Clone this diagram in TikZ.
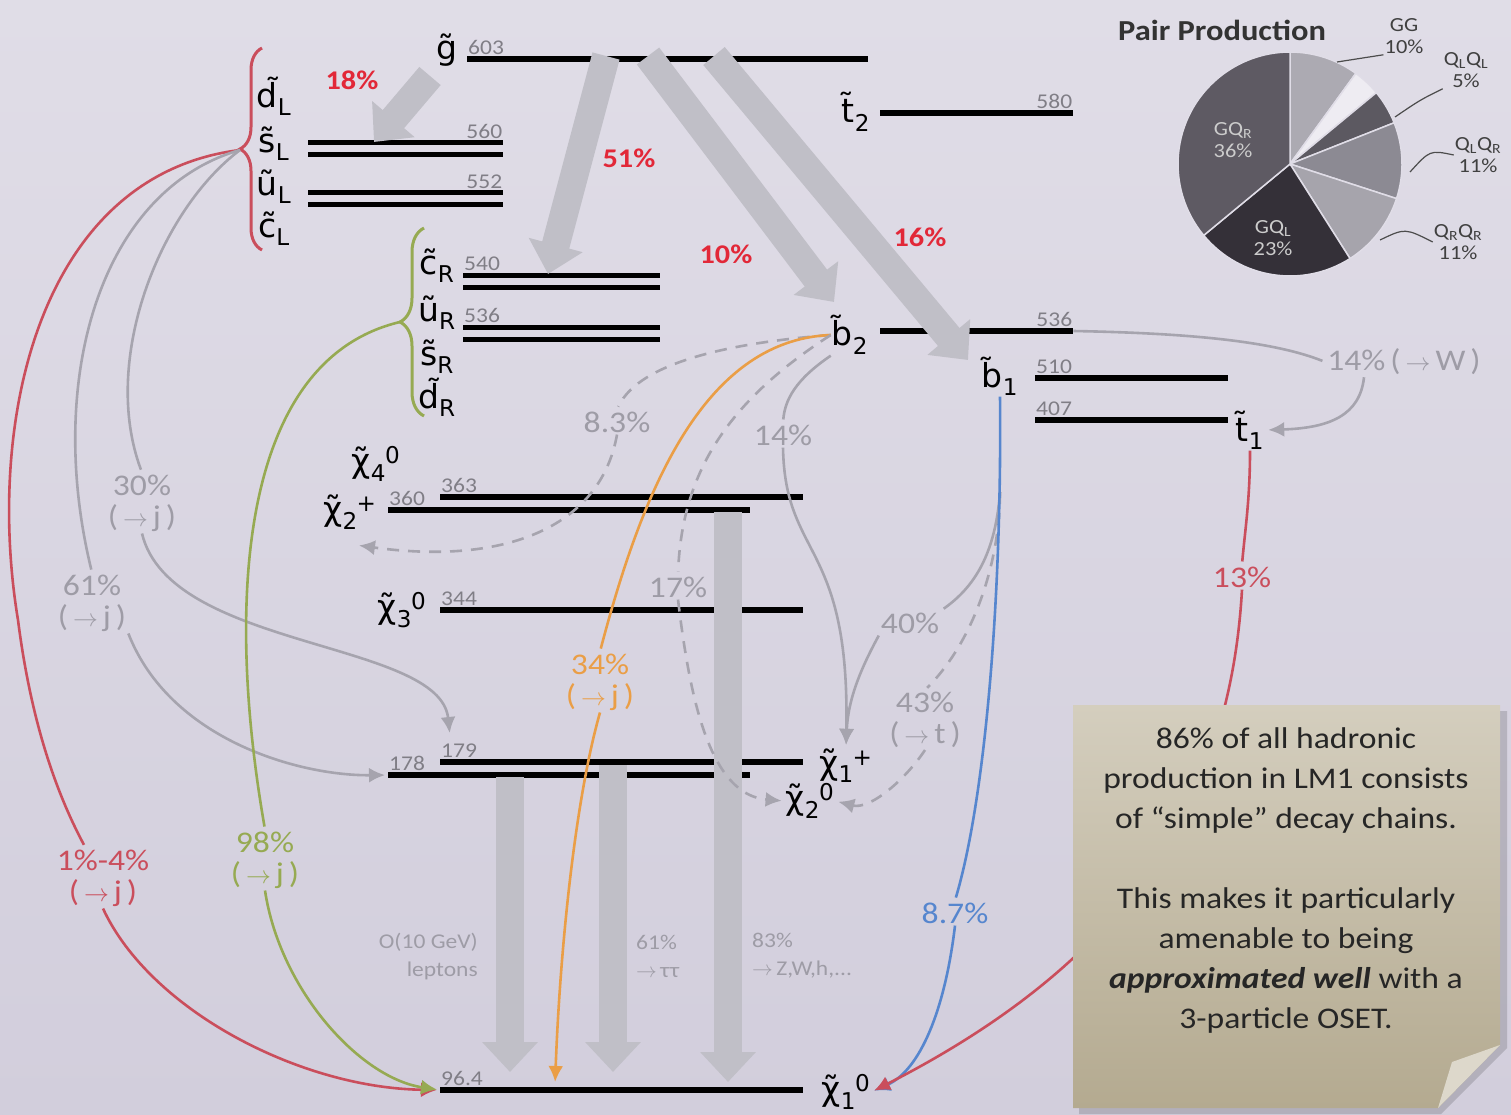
\documentclass[tikz,border=0pt]{standalone}
\usepackage{fontspec}
\setmainfont{Carlito}[FakeStretch=1.12]
\newfontfamily\lblfont{DejaVu Sans}
\usetikzlibrary{arrows.meta,decorations.pathreplacing,positioning}

% colours of the slide
\definecolor{bgtop}{RGB}{224,221,231}
\definecolor{bgbot}{RGB}{210,206,220}
\definecolor{numgray}{RGB}{128,126,134}
\definecolor{pctgray}{RGB}{158,156,166}
\definecolor{linegray}{RGB}{166,164,174}
\definecolor{fatgray}{RGB}{192,191,199}
\definecolor{hotred}{RGB}{226,40,56}
\definecolor{softred}{RGB}{202,78,92}
\definecolor{leafgreen}{RGB}{150,170,82}
\definecolor{amber}{RGB}{234,158,70}
\definecolor{skyblue}{RGB}{86,134,206}
\definecolor{notetop}{RGB}{212,206,190}
\definecolor{notebot}{RGB}{180,170,144}
\definecolor{pieGG}{RGB}{172,170,178}
\definecolor{pieW}{RGB}{238,236,242}
\definecolor{pieLL}{RGB}{92,89,97}
\definecolor{pieLR}{RGB}{140,138,147}
\definecolor{pieRR}{RGB}{166,164,172}
\definecolor{pieGL}{RGB}{52,48,56}
\definecolor{pieGR}{RGB}{94,90,99}

% sparticle labels
\newcommand\sq[2]{#1\textsubscript{#2}}
\newcommand\neu[2]{χ̃\textsubscript{#1}\kern-1pt\textsuperscript{#2}}
\newcommand\toj{(\,$\rightarrow$\,j\,)}

\begin{document}
\begin{tikzpicture}[x=1pt, y=-1pt,
    lvl/.style={fill=black, inner sep=0pt, minimum height=6pt, anchor=west},
    dbl/.style={lvl, minimum height=5pt},
    mass/.style={text=numgray, inner sep=1pt, font=\fontsize{21}{21}\selectfont},
    ptcl/.style={inner sep=1pt, font=\lblfont\fontsize{33}{35}\selectfont},
    pct/.style={text=pctgray, align=center, inner sep=2pt, font=\fontsize{30}{31}\selectfont},
    brpct/.style={text=hotred, font=\bfseries\fontsize{27}{30}\selectfont},
    fat/.style={line width=28pt, draw=fatgray, -{Triangle[length=30pt, width=54pt]}},
    thin/.style={line width=2.6pt, draw=linegray, shorten >=3pt},
    tip/.style={-{Latex[length=16pt, width=15pt]}},
    dashln/.style={dash pattern=on 12pt off 9pt},
    pielbl/.style={text=black!75, align=center, inner sep=1pt, font=\fontsize{20}{22}\selectfont}
  ]
  % background
  \shade[top color=bgtop, bottom color=bgbot] (0,0) rectangle (1511,1115);
  \useasboundingbox (0,0) rectangle (1511,1115);

  % ---- mass levels ----
  \node[lvl, minimum width=401pt] (gl) at (467,59) {};
  \node[lvl, minimum width=193pt] (t2l) at (880,113) {};
  \node[dbl, minimum width=195pt] (sL1) at (308,143) {};
  \node[dbl, minimum width=195pt] (sL2) at (308,155) {};
  \node[dbl, minimum width=195pt] (uL1) at (308,193) {};
  \node[dbl, minimum width=195pt] (uL2) at (308,205) {};
  \node[dbl, minimum width=197pt] (cR1) at (463,275) {};
  \node[dbl, minimum width=197pt] (cR2) at (463,287) {};
  \node[dbl, minimum width=197pt] (uR1) at (463,327) {};
  \node[dbl, minimum width=197pt] (uR2) at (463,339) {};
  \node[lvl, minimum width=193pt] (b2l) at (880,331) {};
  \node[lvl, minimum width=193pt] (b1l) at (1035,378) {};
  \node[lvl, minimum width=193pt] (t1l) at (1035,420) {};
  \node[lvl, minimum width=363pt] (n4) at (440,497) {};
  \node[lvl, minimum width=362pt] (c2) at (388,510) {};
  \node[lvl, minimum width=363pt] (n3) at (440,610) {};
  \node[lvl, minimum width=363pt] (c1) at (440,762) {};
  \node[lvl, minimum width=362pt] (n2) at (388,775) {};
  \node[lvl, minimum width=363pt] (n1) at (440,1090) {};

  % masses in GeV
  \node[mass, anchor=south west] (m603) at (gl.north west) {603};
  \node[mass, anchor=south east] (m580) at (t2l.north east) {580};
  \node[mass, anchor=south east] (m560) at (sL1.north east) {560};
  \node[mass, anchor=south east] (m552) at (uL1.north east) {552};
  \node[mass, anchor=south west] (m540) at (cR1.north west) {540};
  \node[mass, anchor=south west] (m536a) at (uR1.north west) {536};
  \node[mass, anchor=south east] (m536b) at (b2l.north east) {536};
  \node[mass, anchor=south west] (m510) at (b1l.north west) {510};
  \node[mass, anchor=south west] (m407) at (t1l.north west) {407};
  \node[mass, anchor=south west] (m363) at (n4.north west) {363};
  \node[mass, anchor=south west] (m360) at (c2.north west) {360};
  \node[mass, anchor=south west] (m344) at (n3.north west) {344};
  \node[mass, anchor=south west] (m179) at (c1.north west) {179};
  \node[mass, anchor=south west] (m178) at (n2.north west) {178};
  \node[mass, anchor=south west] (m964) at (n1.north west) {96.4};

  % particle names
  \node[ptcl] (gt) at (447,50) {g̃};
  \node[ptcl] (t2) at (856,112) {\sq{t̃}{2}};
  \node[ptcl] (dL) at (274,96) {\sq{d̃}{L}};
  \node[ptcl] (sL) at (274,144) {\sq{s̃}{L}};
  \node[ptcl] (uL) at (274,187) {\sq{ũ}{L}};
  \node[ptcl] (cL) at (274,229) {\sq{c̃}{L}};
  \node[ptcl] (cR) at (437,266) {\sq{c̃}{R}};
  \node[ptcl] (uR) at (437,313) {\sq{ũ}{R}};
  \node[ptcl] (sR) at (437,357) {\sq{s̃}{R}};
  \node[ptcl] (dR) at (437,397) {\sq{d̃}{R}};
  \node[ptcl] (b2) at (850,335) {\sq{b̃}{2}};
  \node[ptcl] (b1) at (1000,376) {\sq{b̃}{1}};
  \node[ptcl] (t1) at (1250,430) {\sq{t̃}{1}};
  \node[ptcl] (x40) at (376,464) {\neu{4}{0}};
  \node[ptcl] (x2p) at (350,512) {\neu{2}{+}};
  \node[ptcl] (x30) at (402,610) {\neu{3}{0}};
  \node[ptcl] (x1p) at (846,766) {\neu{1}{+}};
  \node[ptcl] (x20) at (810,801) {\neu{2}{0}};
  \node[ptcl] (x10) at (846,1092) {\neu{1}{0}};

  % squark multiplets
  \draw[softred, line width=3pt, decorate, decoration={brace, amplitude=22pt}]
    (262,250) -- (262,48);
  \draw[leafgreen, line width=3pt, decorate, decoration={brace, amplitude=24pt}]
    (424,416) -- (424,228);
  \coordinate (rb) at (240,150);
  \coordinate (gb) at (400,322);

  % ---- gluino and heavy decays ----
  \coordinate (g18) at (430,76);
  \coordinate (s18) at (374,142);
  \coordinate (g51) at (606,56);
  \coordinate (cR51) at (548,274);
  \coordinate (g10) at (648,56);
  \coordinate (b2in) at (834,302);
  \coordinate (g16) at (714,56);
  \coordinate (b1in) at (968,360);
  \draw[fat] (g18) -- (s18);
  \draw[fat] (g51) -- (cR51);
  \draw[fat] (g10) -- (b2in);
  \draw[fat] (g16) -- (b1in);
  \node[brpct] (r18) at (352,80) {18\%};
  \node[brpct] (r51) at (629,158) {51\%};
  \node[brpct] (r10) at (726,254) {10\%};
  \node[brpct] (r16) at (920,237) {16\%};

  % ---- gaugino cascades ----
  \coordinate (v1a) at (728,512);
  \coordinate (v1b) at (728,1082);
  \coordinate (v2a) at (510,777);
  \coordinate (v2b) at (510,1072);
  \coordinate (v3a) at (613,765);
  \coordinate (v3b) at (613,1072);
  \draw[fat] (v1a) -- (v1b);
  \draw[fat] (v2a) -- (v2b);
  \draw[fat] (v3a) -- (v3b);
  \node[pct, align=right, anchor=east, font=\fontsize{21}{28}\selectfont] (lep) at (480,956) {O(10 GeV)\\leptons};
  \node[pct, align=left, anchor=west, font=\fontsize{21}{28}\selectfont] (tau) at (634,956) {61\%\\$\rightarrow$\,ττ};
  \node[pct, align=left, anchor=west, font=\fontsize{21}{28}\selectfont] (zwh) at (750,956) {83\%\\$\rightarrow$\,Z,W,h,...};

  % ---- branching labels ----
  \node[pct] (p30) at (142,503) {30\%\\\toj};
  \node[pct] (p61) at (92,603) {61\%\\\toj};
  \node[pct, text=softred] (p14L) at (103,878) {1\%-4\%\\\toj};
  \node[pct, text=leafgreen] (p98) at (265,860) {98\%\\\toj};
  \node[pct] (p83) at (617,422) {8.3\%};
  \node[pct] (p14) at (783,435) {14\%};
  \node[pct] (p17) at (678,587) {17\%};
  \node[pct, text=amber] (p34) at (600,682) {34\%\\\toj};
  \node[pct] (p40) at (910,623) {40\%};
  \node[pct] (p43) at (925,720) {43\%\\(\,$\rightarrow$\,t\,)};
  \node[pct, text=skyblue] (p87) at (955,913) {8.7\%};
  \node[pct, text=softred] (p13) at (1242,577) {13\%};
  \node[pct] (pW) at (1404,362) {14\%\,(\,$\rightarrow$\,W\,)};

  \coordinate (c1in) at (450,736);
  \coordinate (x2in) at (356,545);
  \coordinate (n1o) at (555,1085);
  \coordinate (b1o) at (1000,492);

  % left-handed squarks
  \draw[thin, draw=softred] (rb) .. controls (40,175) and (-15,420) .. (18,620)
    .. controls (32,730) and (60,800) .. (p14L.120);
  \draw[thin, draw=softred, tip] (p14L.south) .. controls (150,1010) and (300,1088) .. (n1.west);
  \draw[thin] (rb) .. controls (100,190) and (45,380) .. (p61.north);
  \draw[thin] (rb) .. controls (160,210) and (100,360) .. (p30.north);
  \draw[thin, tip] (p61.south east) .. controls (170,740) and (300,776) .. (n2.west);
  \draw[thin, tip] (p30.south) .. controls (170,650) and (440,640) .. (c1in);

  % right-handed squarks
  \draw[thin, draw=leafgreen] (gb) .. controls (240,360) and (225,600) .. (p98.north);
  \draw[thin, draw=leafgreen, tip] (p98.south) .. controls (280,990) and (360,1078) .. (n1.west);

  % sbottom 2
  \draw[thin, dashln] (b2.west) .. controls (740,342) and (640,360) .. (p83.north);
  \draw[thin, dashln, tip] (p83.south) .. controls (600,530) and (500,565) .. (x2in);
  \draw[thin, draw=amber] (b2.west) .. controls (700,340) and (640,500) .. (p34.north);
  \draw[thin, draw=amber, tip] (p34.south) .. controls (575,800) and (560,950) .. (n1o);
  \draw[thin, dashln] (b2.west) .. controls (730,400) and (682,470) .. (p17.north);
  \draw[thin, dashln, tip] (p17.south) .. controls (690,700) and (710,795) .. (x20.west);
  \draw[thin] (b2.south west) .. controls (795,380) and (785,400) .. (p14.north);
  \draw[thin, tip] (p14.south) .. controls (785,560) and (850,540) .. (x1p.north);
  \draw[thin] (b2l.east) .. controls (1180,333) and (1270,340) .. (pW.west);
  \draw[thin, tip] ([xshift=-40pt]pW.south) .. controls (1360,415) and (1330,428) .. (t1.east);

  % sbottom 1
  \draw[thin] (b1o) .. controls (995,560) and (970,590) .. (p40.north east);
  \draw[thin, tip] (p40.south west) .. controls (860,670) and (848,700) .. (x1p.north);
  \draw[thin, dashln] (b1o) .. controls (1000,560) and (975,640) .. (p43.north);
  \draw[thin, dashln, tip] (p43.south) .. controls (905,780) and (870,810) .. (x20.east);
  \draw[thin, draw=skyblue] (b1.south) .. controls (1002,600) and (985,800) .. (p87.north);
  \draw[thin, draw=skyblue, tip] (p87.south) .. controls (945,1010) and (920,1070) .. (x10.east);

  % stop 1
  \draw[thin, draw=softred] (t1.south) .. controls (1250,500) and (1245,530) .. (p13.north);
  \draw[thin, draw=softred, tip] (p13.south) .. controls (1230,800) and (1130,960) .. (x10.east);

  % ---- pair production pie ----
  \node[font=\bfseries\fontsize{29}{30}\selectfont, text=black!80] (ptitle) at (1222,30) {Pair Production};
  \begin{scope}[shift={(1290,164)}, yscale=-1]
    \foreach \a/\b/\c in {90/54/pieGG, 54/39.6/pieW, 39.6/21.6/pieLL, 21.6/-18/pieLR,
                          -18/-57.6/pieRR, -57.6/-140.4/pieGL, -140.4/-270/pieGR}
      \filldraw[fill=\c, draw=bgtop, line width=1.5pt]
        (0,0) -- (\a:112) arc[start angle=\a, end angle=\b, radius=112] -- cycle;
  \end{scope}
  \node[pielbl, text=black!20] (lGR) at (1233,140) {GQ\textsubscript{R}\\36\%};
  \node[pielbl, text=black!20] (lGL) at (1273,238) {GQ\textsubscript{L}\\23\%};
  \node[pielbl] (lGG) at (1404,36) {GG\\10\%};
  \node[pielbl] (lLL) at (1466,70) {Q\textsubscript{L}Q\textsubscript{L}\\5\%};
  \node[pielbl] (lLR) at (1478,155) {Q\textsubscript{L}Q\textsubscript{R}\\11\%};
  \node[pielbl] (lRR) at (1458,242) {Q\textsubscript{R}Q\textsubscript{R}\\11\%};
  \draw[black!70, line width=1.2pt] (1337,62) -- (lGG.south west);
  \draw[black!70, line width=1.2pt] (1395,117) .. controls (1420,100) .. (lLL.south west);
  \draw[black!70, line width=1.2pt] (1410,172) .. controls (1430,150) .. (lLR.west);
  \draw[black!70, line width=1.2pt] (1380,240) .. controls (1405,228) .. (lRR.west);

  % ---- sticky note ----
  \fill[black, opacity=0.15] (1079,711) -- (1507,711) -- (1507,1048) -- (1441,1114) -- (1079,1114) -- cycle;
  \shade[top color=notetop, bottom color=notebot]
    (1073,705) -- (1500,705) -- (1500,1045) -- (1438,1108) -- (1073,1108) -- cycle;
  \fill[notetop!80!white] (1500,1045) -- (1438,1108) -- (1452,1062) -- cycle;
  \node[align=center, text=black!85, font=\fontsize{30}{40}\selectfont] (note) at (1286,880)
    {86\% of all hadronic\\production in LM1 consists\\of “simple” decay chains.\\[40pt]
     This makes it particularly\\amenable to being\\\textbf{\textit{approximated well}} with a\\3-particle OSET.};
\end{tikzpicture}
\end{document}
